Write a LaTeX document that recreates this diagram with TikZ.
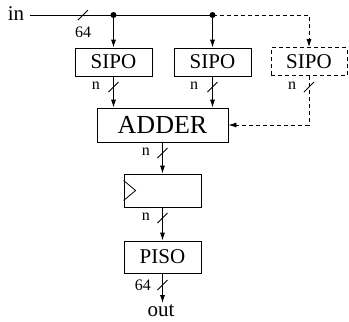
\documentclass[tikz,border=0pt]{standalone}
\usepackage{fontspec}
\setmainfont{Liberation Serif}
\usetikzlibrary{arrows.meta,positioning,calc}

\tikzset{
  blk/.style={draw,thick,minimum width=77pt,minimum height=28pt,inner sep=0pt,font=\fontsize{21}{21}\selectfont},
  ghost/.style={blk,dashed,dash pattern=on 4pt off 3pt},
  wire/.style={thick,-{Latex[length=8pt,width=5pt]}},
  dwire/.style={wire,dash pattern=on 4pt off 3pt},
  tap/.style={circle,fill,inner sep=0pt,minimum size=6pt},
  wlab/.style={font=\fontsize{16}{16}\selectfont,inner sep=0pt},
}
% bus width mark: slash at #1, label #2 placed at #3
\newcommand\buswidth[3]{%
  \draw[thick] ($(#1)+(-5,5)$) -- ($(#1)+(5,-5)$);
  \node[wlab] at (#3) {#2};}

\begin{document}
\begin{tikzpicture}[x=1pt,y=-1pt]
\useasboundingbox (0,0) rectangle (349,322);
\node[font=\fontsize{21}{21}\selectfont,inner sep=0pt] (in) at (16,14) {in};
\coordinate (tapA) at (113.5,15);
\coordinate (tapB) at (212.5,15);
\node[blk] (sipoA) at (113.5,62) {SIPO};
\node[blk] (sipoB) at (212.5,62) {SIPO};
\node[ghost,minimum width=76pt] (sipoC) at (309,61.5) {SIPO};
\node[blk,minimum width=131pt,minimum height=34pt,font=\fontsize{26}{26}\selectfont] (adder) at (162.5,125) {ADDER};
\node[blk,minimum height=33pt] (reg) at (162.5,190.5) {};
\node[blk,minimum height=32pt] (piso) at (162.5,257) {PISO};
\node[font=\fontsize{21}{21}\selectfont,inner sep=0pt] (out) at (161,311) {out};
\coordinate (outend) at (162.5,303);

% input bus and taps
\draw[thick] (30,15) -- (tapB);
\draw[dwire] (tapB) -| (sipoC.north);
\node[tap] at (tapA) {};
\node[tap] at (tapB) {};
\draw[wire] (tapA) -- (sipoA.north);
\draw[wire] (tapB) -- (sipoB.north);
\buswidth{83,15}{64}{83,32}

% SIPOs into adder
\draw[wire] (sipoA.south) -- (sipoA.south |- adder.north);
\draw[wire] (sipoB.south) -- (sipoB.south |- adder.north);
\draw[dwire] (sipoC.south) |- (adder.east);
\buswidth{113.5,87}{n}{96,86}
\buswidth{212.5,87}{n}{194,86}
\buswidth{309,87}{n}{292,86}

% register with clock mark
\draw[thick] ($(reg.west)+(0,-10)$) -- ++(12,10) -- ++(-12,10);
\draw[wire] (adder) -- (reg);
\buswidth{162.5,153}{n}{146,152}
\draw[wire] (reg) -- (piso);
\buswidth{162.5,218}{n}{146,217}
\draw[wire] (piso) -- (outend);
\buswidth{162.5,285}{64}{143,285}
\end{tikzpicture}
\end{document}
